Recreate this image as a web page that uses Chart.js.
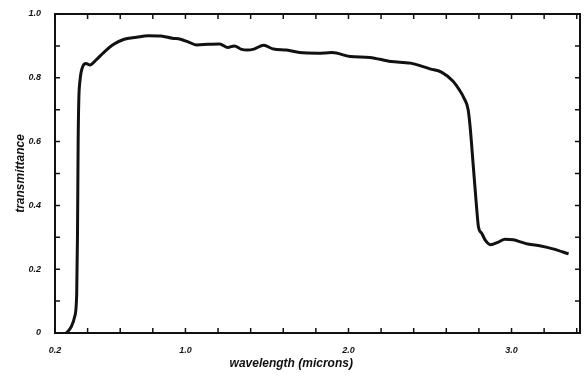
<!DOCTYPE html>
<html>
<head>
<meta charset="utf-8">
<script src="https://cdn.jsdelivr.net/npm/chart.js@4/dist/chart.umd.min.js"></script>
<style>
  html, body { margin: 0; padding: 0; background: #fff; }
  #wrap { width: 588px; height: 376px; }
</style>
</head>
<body>
<div id="wrap"><canvas id="specChart"></canvas></div>
<script>
// Данные
const wavelength = [0.27, 0.30, 0.32, 0.333, 0.338, 0.342, 0.346, 0.353, 0.37, 0.39, 0.415, 0.45, 0.50, 0.56, 0.62, 0.70, 0.77, 0.85, 0.92, 0.97, 1.02, 1.07, 1.14, 1.21, 1.26, 1.30, 1.34, 1.38, 1.42, 1.48, 1.54, 1.62, 1.70, 1.81, 1.90, 2.01, 2.13, 2.26, 2.38, 2.50, 2.57, 2.64, 2.68, 2.71, 2.734, 2.746, 2.766, 2.787, 2.797, 2.818, 2.84, 2.87, 2.92, 2.96, 3.01, 3.06, 3.10, 3.18, 3.26, 3.35];
const transmittance = [0, 0.02, 0.05, 0.12, 0.31, 0.60, 0.73, 0.79, 0.835, 0.845, 0.84, 0.855, 0.88, 0.905, 0.92, 0.927, 0.932, 0.931, 0.924, 0.921, 0.912, 0.903, 0.905, 0.906, 0.895, 0.90, 0.89, 0.887, 0.89, 0.902, 0.89, 0.887, 0.879, 0.877, 0.879, 0.867, 0.864, 0.851, 0.846, 0.828, 0.818, 0.79, 0.762, 0.735, 0.70, 0.647, 0.52, 0.386, 0.333, 0.312, 0.29, 0.277, 0.285, 0.294, 0.292, 0.285, 0.279, 0.273, 0.263, 0.248];

const xTicks = [0.2, 0.4, 0.6, 0.8, 1.0, 1.2, 1.4, 1.6, 1.8, 2.0, 2.2, 2.4, 2.6, 2.8, 3.0, 3.2, 3.4];
const xLabelled = [0.2, 1.0, 2.0, 3.0];
const yTicks = [0, 0.1, 0.2, 0.3, 0.4, 0.5, 0.6, 0.7, 0.8, 0.9, 1.0];
const yLabelled = [0, 0.2, 0.4, 0.6, 0.8, 1.0];
const xTitle = 'wavelength (microns)';

const near = (list, v) => list.some(t => Math.abs(t - v) < 1e-6);

const tickFont = { family: 'Liberation Sans', size: 9, style: 'italic', weight: 'bold' };
const titleFont = { family: 'Liberation Sans', size: 12, style: 'italic', weight: 'bold' };

// Рамка, засечки внутрь и подпись оси X (на скане она сдвинута влево)
const framePlugin = {
    id: 'frame',
    afterDraw(chart) {
        const { ctx, chartArea: a, scales } = chart;
        ctx.save();
        ctx.strokeStyle = '#111';
        ctx.lineWidth = 2;
        ctx.strokeRect(a.left, a.top, a.right - a.left, a.bottom - a.top);
        ctx.lineWidth = 1.5;
        ctx.beginPath();
        xTicks.forEach(v => {
            const px = scales.x.getPixelForValue(v);
            ctx.moveTo(px, a.bottom); ctx.lineTo(px, a.bottom - 5);
            ctx.moveTo(px, a.top); ctx.lineTo(px, a.top + 5);
        });
        yTicks.forEach(v => {
            const py = scales.y.getPixelForValue(v);
            ctx.moveTo(a.left, py); ctx.lineTo(a.left + 5, py);
            ctx.moveTo(a.right, py); ctx.lineTo(a.right - 5, py);
        });
        ctx.stroke();

        ctx.fillStyle = '#111';
        ctx.font = 'italic bold 12px "Liberation Sans"';
        ctx.textAlign = 'center';
        ctx.textBaseline = 'middle';
        ctx.fillText(xTitle, a.left + (a.right - a.left) * 0.45, a.bottom + 31);
        ctx.restore();
    }
};

new Chart(document.getElementById('specChart'), {
    type: 'line',
    data: {
        datasets: [{
            data: wavelength.map((w, i) => ({ x: w, y: transmittance[i] })),
            borderColor: '#111',
            borderWidth: 3,
            pointRadius: 0,
            fill: false,
            cubicInterpolationMode: 'monotone'
        }]
    },
    options: {
        responsive: true,
        maintainAspectRatio: false,
        animation: false,
        layout: { padding: { top: 14, right: 8, left: 0, bottom: 0 } },
        plugins: {
            legend: { display: false },
            tooltip: { enabled: false }
        },
        scales: {
            x: {
                type: 'linear',
                min: 0.2,
                max: 3.42,
                afterBuildTicks: s => { s.ticks = xTicks.map(v => ({ value: v })); },
                afterFit: s => { s.height = 43; },
                grid: { display: false },
                border: { display: false },
                ticks: {
                    color: '#111',
                    font: tickFont,
                    padding: 4,
                    maxRotation: 0,
                    autoSkip: false,
                    callback: v => near(xLabelled, v) ? v.toFixed(1) : ''
                }
            },
            y: {
                min: 0,
                max: 1.0,
                afterBuildTicks: s => { s.ticks = yTicks.map(v => ({ value: v })); },
                afterFit: s => { s.width = 55; },
                grid: { display: false },
                border: { display: false },
                ticks: {
                    color: '#111',
                    font: tickFont,
                    padding: 6,
                    autoSkip: false,
                    callback: v => near(yLabelled, v) ? (v === 0 ? '0' : v.toFixed(1)) : ''
                },
                title: {
                    display: true,
                    text: 'transmittance',
                    color: '#111',
                    font: titleFont,
                    padding: { top: 13, bottom: 0 }
                }
            }
        }
    },
    plugins: [framePlugin]
});
</script>
</body>
</html>
